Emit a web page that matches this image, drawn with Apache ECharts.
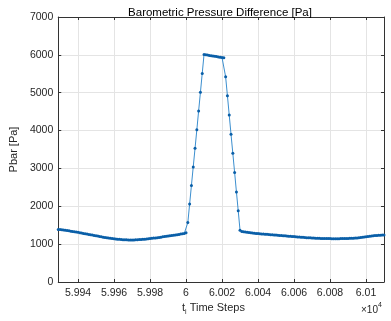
<!DOCTYPE html>
<html>
<head>
<meta charset="utf-8">
<script src="https://cdn.jsdelivr.net/npm/echarts@6/dist/echarts.min.js"></script>
<style>
  html, body { margin: 0; padding: 0; background: #fff; }
  #chart { width: 391px; height: 321px; }
</style>
</head>
<body>
<div id="chart"></div>
<script>
// first time step of the record, one sample per step after it
const firstStep = 59929
const lastStep = 60110

// Pbar [Pa], one value per time step from 59929 to 60110
const pbar = [
  1390, 1384, 1378, 1372, 1365, 1358, 1351, 1343, 1335, 1327,
  1319, 1311, 1302, 1293, 1284, 1275, 1266, 1257, 1248, 1239,
  1230, 1221, 1212, 1203, 1194, 1185, 1177, 1169, 1162, 1155,
  1148, 1142, 1136, 1131, 1126, 1122, 1118, 1115, 1113, 1112,
  1111, 1111, 1112, 1114, 1117, 1120, 1124, 1128, 1132, 1137,
  1142, 1147, 1153, 1159, 1165, 1171, 1178, 1185, 1192, 1199,
  1206, 1214, 1221, 1228, 1236, 1243, 1251, 1258, 1266, 1273,
  1281,
  // ramp up (60000 - 60010)
  1300, 1570, 2060, 2550, 3040, 3530, 4020, 4520, 5010, 5510, 6010,
  // plateau (60011 - 60021)
  6002, 5994, 5986, 5978, 5970, 5962, 5954, 5946, 5938, 5930, 5922,
  // ramp down (60022 - 60030)
  5420, 4920, 4410, 3900, 3400, 2890, 2380, 1880, 1370,
  // tail (60031 - 60110)
  1335, 1328, 1320, 1313, 1306, 1300, 1294, 1289, 1284, 1279,
  1275, 1271, 1267, 1263, 1259, 1255, 1251, 1247, 1243, 1239,
  1235, 1231, 1227, 1223, 1219, 1215, 1211, 1207, 1203, 1199,
  1195, 1191, 1187, 1183, 1179, 1176, 1172, 1169, 1166, 1163,
  1160, 1158, 1156, 1154, 1152, 1150, 1149, 1148, 1147, 1146,
  1145, 1145, 1145, 1145, 1145, 1146, 1147, 1148, 1149, 1151,
  1153, 1155, 1158, 1161, 1165, 1169, 1174, 1180, 1186, 1193,
  1200, 1207, 1214, 1220, 1226, 1231, 1235, 1238, 1240, 1242
]

const xTicks = [59940, 59960, 59980, 60000, 60020, 60040, 60060, 60080, 60100]
const yMin = 0
const yMax = 7000
const yStep = 1000

const axisColor = '#333333'
const textColor = '#262626'
const gridColor = '#e4e4e4'
const fontFamily = 'Liberation Sans, Arial, sans-serif'

const chart = echarts.init(document.getElementById('chart'))

const seriesData = pbar.map((v, i) => [firstStep + i, v])

// MATLAB shows 5.994 etc. with a x10^4 exponent
const tickFormatter = (v) => String(+(v / 1e4).toFixed(4))

function boxXAxis(position, showLabels) {
  return {
    type: 'value',
    position,
    min: firstStep,
    max: lastStep,
    axisLine: { show: true, onZero: false, lineStyle: { color: axisColor, width: 1 } },
    axisTick: {
      show: true,
      inside: true,
      length: 3,
      customValues: xTicks,
      lineStyle: { color: axisColor }
    },
    axisLabel: {
      show: showLabels,
      customValues: xTicks,
      formatter: tickFormatter,
      color: textColor,
      fontSize: 10.5,
      fontFamily,
      margin: 6
    },
    splitLine: { show: showLabels, lineStyle: { color: gridColor, width: 1 } }
  }
}

function boxYAxis(position, showLabels) {
  return {
    type: 'value',
    position,
    min: yMin,
    max: yMax,
    interval: yStep,
    axisLine: { show: true, lineStyle: { color: axisColor, width: 1 } },
    axisTick: { show: true, inside: true, length: 3, lineStyle: { color: axisColor } },
    axisLabel: {
      show: showLabels,
      formatter: (v) => String(v),
      color: textColor,
      fontSize: 10.5,
      fontFamily,
      margin: 5
    },
    splitLine: { show: showLabels, lineStyle: { color: gridColor, width: 1 } }
  }
}

const option = {
  animation: false,
  backgroundColor: '#ffffff',
  title: {
    text: 'Barometric Pressure Difference [Pa]',
    left: 215,
    textAlign: 'center',
    top: 2,
    textStyle: {
      color: '#000000',
      fontSize: 11.5,
      fontWeight: 'normal',
      fontFamily
    }
  },
  grid: {
    left: 46,
    right: 7,
    top: 17,
    bottom: 39
  },
  xAxis: [boxXAxis('bottom', true), boxXAxis('top', false)],
  yAxis: [
    Object.assign(boxYAxis('left', true), {
      name: 'Pbar [Pa]',
      nameLocation: 'middle',
      nameGap: 31,
      nameTextStyle: { color: textColor, fontSize: 11, fontFamily }
    }),
    boxYAxis('right', false)
  ],
  graphic: [
    {
      type: 'text',
      left: 182,
      top: 300,
      style: {
        text: '{n|t}{s|i}{n| Time Steps}',
        rich: {
          n: { fontSize: 11, fontFamily, fill: textColor, lineHeight: 14 },
          s: { fontSize: 7, fontFamily, fill: textColor, lineHeight: 14, padding: [9, 0, 0, 0] }
        }
      }
    },
    {
      type: 'text',
      left: 361,
      top: 301,
      style: {
        text: '{n|\u00d710}{p|4}',
        rich: {
          n: { fontSize: 10, fontFamily, fill: textColor, lineHeight: 14, padding: [4, 0, 0, 0] },
          p: { fontSize: 7, fontFamily, fill: textColor, lineHeight: 14, padding: [0, 0, 6, 0] }
        }
      }
    }
  ],
  series: [
    {
      name: 'Pbar',
      type: 'line',
      xAxisIndex: 0,
      yAxisIndex: 0,
      data: seriesData,
      showSymbol: true,
      showAllSymbol: true,
      symbol: 'circle',
      symbolSize: 3,
      itemStyle: { color: '#0a5fa8' },
      lineStyle: { color: '#3c8fcf', width: 1 },
      silent: true
    }
  ]
}

chart.setOption(option)
</script>
</body>
</html>
